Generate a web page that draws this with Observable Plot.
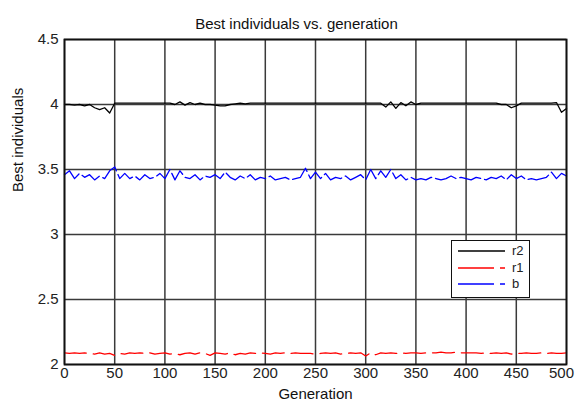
<!DOCTYPE html>
<html>
<head>
<meta charset="utf-8">
<script src="https://cdn.jsdelivr.net/npm/d3@7"></script>
<script src="https://cdn.jsdelivr.net/npm/@observablehq/plot@0.6"></script>
<style>
  html, body { margin: 0; padding: 0; background: #fff; }
  #wrap { position: relative; width: 577px; height: 405px; font-family: "Liberation Sans", Arial, sans-serif; }
  #legend { position: absolute; left: 451px; top: 240px; width: 79px; height: 58px; border: 1.5px solid #111; background: #fff; box-sizing: border-box; }
  #legend svg { display: block; }
</style>
</head>
<body>
<div id="wrap"></div>
<script>
const title = "Best individuals vs. generation";
const xLabel = "Generation";
const yLabel = "Best individuals";
const xTicks = [0, 50, 100, 150, 200, 250, 300, 350, 400, 450, 500];
const yTicks = [2, 2.5, 3, 3.5, 4, 4.5];
const seriesNames = ["r2", "r1", "b"];
const seriesColors = ["#000000", "#ff0000", "#0000ff"];

// generation sampled every 5
const generation = d3.range(0, 501, 5);

const r2 = [
  4.00, 4.00, 3.995, 4.00, 3.99, 4.00, 3.975, 3.96, 3.975, 3.935,
  4.01,
  4.01, 4.01, 4.01, 4.01, 4.01, 4.01, 4.01, 4.01, 4.01, 4.01, 4.01,
  4.00, 4.02, 3.995, 4.015, 4.00, 4.01, 4.00, 4.00, 3.995, 3.99, 3.99, 4.00, 4.005, 4.01, 4.005, 4.01,
  4.01, 4.01, 4.01, 4.01, 4.01, 4.01, 4.01, 4.01, 4.01, 4.01, 4.01, 4.01, 4.01, 4.01, 4.01, 4.01, 4.01, 4.01, 4.01, 4.01, 4.01, 4.01, 4.01, 4.01, 4.01,
  4.01, 3.98, 4.02, 3.97, 4.015, 3.99, 4.02, 4.00, 4.01,
  4.01, 4.01, 4.01, 4.01, 4.01, 4.01, 4.01, 4.01, 4.01, 4.01, 4.01, 4.01, 4.01, 4.01, 4.01, 4.00,
  4.00, 3.975, 3.99, 4.01,
  4.01, 4.01, 4.01, 4.01, 4.01, 4.01,
  4.015, 3.94, 3.97
];

const r1 = [
  2.09, 2.085, 2.09, 2.085, 2.09, 2.085, 2.08, 2.09, 2.08, 2.085,
  2.07, 2.085, 2.08, 2.09, 2.085, 2.09, 2.085, 2.09, 2.08, 2.085,
  2.09, 2.08, 2.085, 2.075, 2.085, 2.09, 2.08, 2.09, 2.085, 2.07,
  2.09, 2.085, 2.08, 2.09, 2.075, 2.085, 2.08, 2.09, 2.085, 2.09,
  2.085, 2.08, 2.09, 2.085, 2.09, 2.085, 2.09, 2.085, 2.085, 2.085,
  2.08, 2.085, 2.09, 2.085, 2.09, 2.08, 2.085, 2.09, 2.085, 2.09,
  2.065, 2.09, 2.075, 2.09, 2.085, 2.09, 2.085, 2.09, 2.085, 2.09,
  2.09, 2.085, 2.09, 2.09, 2.09, 2.095, 2.09, 2.09, 2.095, 2.09,
  2.09, 2.09, 2.09, 2.085, 2.09, 2.085, 2.09, 2.085, 2.09, 2.08,
  2.085, 2.085, 2.09, 2.085, 2.085, 2.09, 2.085, 2.09, 2.085, 2.085,
  2.09
];

const b = [
  3.46, 3.49, 3.43, 3.47, 3.44, 3.46, 3.42, 3.45, 3.43, 3.49,
  3.52, 3.43, 3.47, 3.43, 3.45, 3.42, 3.46, 3.43, 3.44, 3.47,
  3.43, 3.50, 3.42, 3.49, 3.44, 3.43, 3.46, 3.42, 3.45, 3.44,
  3.46, 3.43, 3.48, 3.44, 3.42, 3.45, 3.43, 3.46, 3.42, 3.44,
  3.43, 3.45, 3.42, 3.43, 3.44, 3.42, 3.43, 3.44, 3.51, 3.43,
  3.48, 3.43, 3.47, 3.42, 3.44, 3.43, 3.45, 3.42, 3.44, 3.46,
  3.42, 3.50, 3.43, 3.49, 3.44, 3.50, 3.43, 3.46, 3.42, 3.44,
  3.42, 3.43, 3.42, 3.44, 3.43, 3.42, 3.43, 3.45, 3.43, 3.44,
  3.43, 3.42, 3.44, 3.43, 3.42, 3.44, 3.43, 3.45, 3.42, 3.46,
  3.43, 3.45, 3.42, 3.43, 3.42, 3.43, 3.44, 3.48, 3.43, 3.47,
  3.45
];

const seriesValues = [r2, r1, b];
const data = [];
seriesNames.forEach((name, si) => {
  generation.forEach((g, i) => data.push({series: name, generation: g, value: seriesValues[si][i]}));
});

const font = "'Liberation Sans', Arial, sans-serif";
const grid = "#3a3a3a";

const chart = Plot.plot({
  width: 577,
  height: 405,
  marginLeft: 64,
  marginRight: 11,
  marginTop: 39,
  marginBottom: 41,
  style: {fontFamily: font, fontSize: "15px", color: "#222", background: "#fff", overflow: "visible"},
  x: {domain: [0, 500], ticks: xTicks, label: null},
  y: {domain: [2, 4.5], ticks: yTicks, label: null},
  color: {domain: seriesNames, range: seriesColors},
  marks: [
    Plot.ruleX(xTicks, {stroke: grid, strokeWidth: 1.5}),
    Plot.ruleY(yTicks, {stroke: grid, strokeWidth: 1.5}),
    Plot.axisX({ticks: xTicks.slice(0, -1), tickSize: 0, tickPadding: 3, fontSize: 15, label: null}),
    Plot.axisX({ticks: xTicks.slice(-1), tickSize: 0, tickPadding: 3, fontSize: 15, label: null, dx: -5}),
    Plot.axisY({ticks: yTicks, tickSize: 0, tickPadding: 6, fontSize: 15, label: null, tickFormat: d => String(d)}),
    Plot.line(data.filter(d => d.series === "r2"), {x: "generation", y: "value", stroke: seriesColors[0], strokeWidth: 1.3}),
    Plot.line(data.filter(d => d.series === "r1"), {x: "generation", y: "value", stroke: seriesColors[1], strokeWidth: 1.3, strokeDasharray: "22,7"}),
    Plot.line(data.filter(d => d.series === "b"), {x: "generation", y: "value", stroke: seriesColors[2], strokeWidth: 1.3, strokeDasharray: "22,4"}),
    Plot.frame({stroke: "#111", strokeWidth: 1.8}),
    Plot.text([title], {frameAnchor: "top", dx: -19, dy: -21, fontSize: 15, fill: "#111"}),
    Plot.text([xLabel], {frameAnchor: "bottom", dy: 34, fontSize: 15, fill: "#111"}),
    Plot.text([yLabel], {frameAnchor: "left", dx: -46, dy: -10, rotate: -90, fontSize: 15, fill: "#111"})
  ]
});

const wrap = document.getElementById("wrap");
wrap.appendChild(chart);

// legend
const legend = document.createElement("div");
legend.id = "legend";
const rowsY = [10, 27, 43];
let svg = `<svg width="76" height="55" xmlns="http://www.w3.org/2000/svg" style="font-family:${font};font-size:13px">`;
seriesNames.forEach((name, i) => {
  const y = rowsY[i];
  if (i === 0) {
    svg += `<line x1="6" x2="53" y1="${y}" y2="${y}" stroke="${seriesColors[i]}" stroke-width="1.5"/>`;
  } else {
    svg += `<line x1="6" x2="42" y1="${y}" y2="${y}" stroke="${seriesColors[i]}" stroke-width="1.5"/>`;
    svg += `<line x1="48" x2="53" y1="${y}" y2="${y}" stroke="${seriesColors[i]}" stroke-width="1.5"/>`;
  }
  svg += `<text x="60" y="${y + 4}" fill="#222">${name}</text>`;
});
svg += `</svg>`;
legend.innerHTML = svg;
wrap.appendChild(legend);
</script>
</body>
</html>
